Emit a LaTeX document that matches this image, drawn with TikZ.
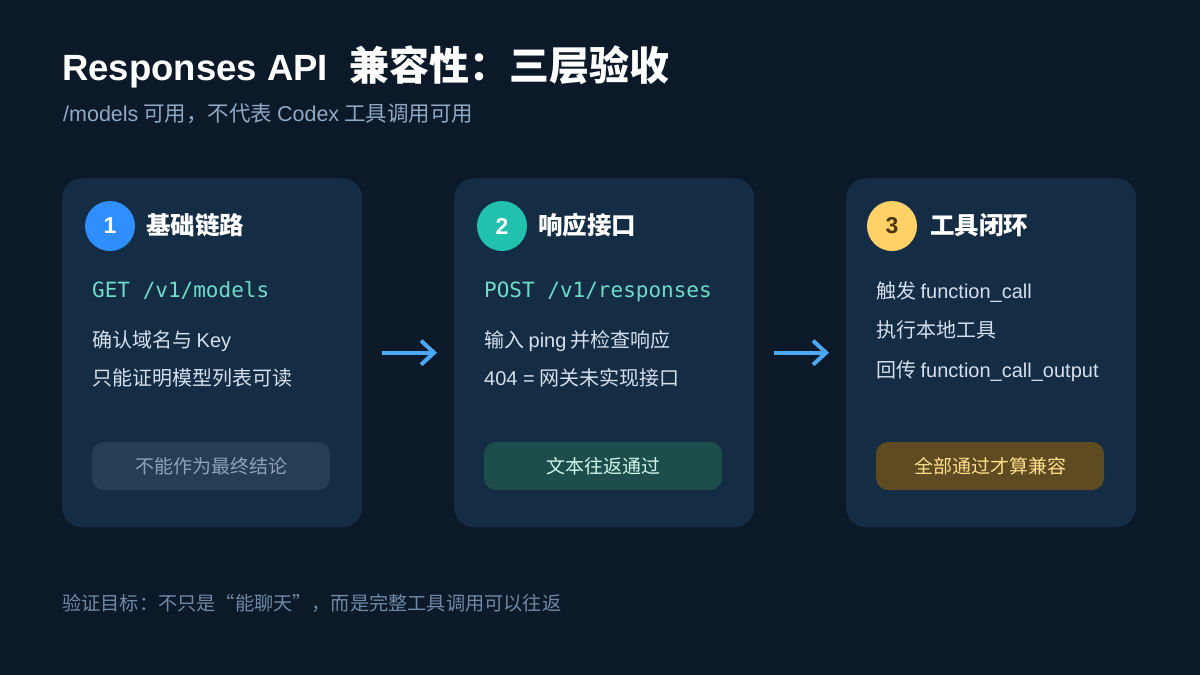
\documentclass[tikz,border=0pt]{standalone}
\usepackage{fontspec}
\setmainfont{Noto Sans CJK SC}
\newfontfamily\latinsans{Liberation Sans}
\newfontfamily\apimono{DejaVu Sans Mono}
\newcommand\latn[1]{{\latinsans #1}}
\usetikzlibrary{arrows.meta,positioning}

\definecolor{pagebg}{HTML}{0B1929}
\definecolor{cardbg}{HTML}{142C44}
\definecolor{subgrey}{HTML}{8FA9C4}
\definecolor{footgrey}{HTML}{6F89A5}
\definecolor{bodytext}{HTML}{D5E0EC}
\definecolor{apiteal}{HTML}{6EDCC8}
\definecolor{stepblue}{HTML}{2F8FFF}
\definecolor{stepteal}{HTML}{22C1AE}
\definecolor{stepgold}{HTML}{FFD166}
\definecolor{goldtext}{HTML}{4A3510}
\definecolor{flowblue}{HTML}{4AA8F5}
\definecolor{badgegrey}{HTML}{263D55}
\definecolor{badgegreytext}{HTML}{8DA2B8}
\definecolor{badgegreen}{HTML}{1D4E4B}
\definecolor{badgegreentext}{HTML}{CFF5EA}
\definecolor{badgegold}{HTML}{5E4B22}
\definecolor{badgegoldtext}{HTML}{FFDD8A}

\begin{document}
\begin{tikzpicture}[x=1pt,y=-1pt,
    card/.style={fill=cardbg,rounded corners=20pt,minimum width=300pt,
                 minimum height=349pt,anchor=north west,inner sep=0pt},
    stepnum/.style={circle,minimum size=50pt,inner sep=0pt,
                    font=\latinsans\fontsize{23}{23}\selectfont\bfseries},
    heading/.style={anchor=base west,inner sep=0pt,text=white,
                    font=\fontsize{24.5}{28}\selectfont\bfseries},
    apiline/.style={anchor=base west,inner sep=0pt,text=apiteal,
                    font=\apimono\fontsize{21}{24}\selectfont},
    bodyline/.style={anchor=base west,inner sep=0pt,text=bodytext,
                     font=\fontsize{20}{24}\selectfont},
    badge/.style={rounded corners=12pt,minimum height=48pt,inner sep=0pt,
                  font=\fontsize{19}{22}\selectfont},
    flow/.style={draw=flowblue,line width=4pt,shorten <=20pt,shorten >=17pt,
                 -{Straight Barb[length=13pt,width=24pt]}}]
  % page
  \fill[pagebg] (0,0) rectangle (1200,675);
  \useasboundingbox (0,0) rectangle (1200,675);

  \node[anchor=base west,inner sep=0pt,text=white,
        font=\fontsize{40}{44}\selectfont\bfseries] (title) at (62,80)
       {{\latinsans\fontsize{36.5}{44}\selectfont Responses API}\hspace{0.55em}兼容性：三层验收};
  \node[anchor=base west,inner sep=0pt,text=subgrey,
        font=\fontsize{21.5}{24}\selectfont] (subtitle) at (63,121)
       {\latn{/models} 可用，不代表 \latn{Codex} 工具调用可用};

  % cards
  \node[card]                    (c1) at (62,178)  {};
  \node[card]                    (c2) at (454,178) {};
  \node[card,minimum width=290pt] (c3) at (846,178) {};

  % layer 1
  \node[stepnum,fill=stepblue,text=white] (n1) at (110,226) {1};
  \node[heading]  (h1) at (146,234) {基础链路};
  \node[apiline]  (a1) at (92,297)  {GET /v1/models};
  \node[bodyline] (b1a) at (92,347) {确认域名与 \latn{Key}};
  \node[bodyline] (b1b) at (92,385) {只能证明模型列表可读};
  \node[badge,fill=badgegrey,text=badgegreytext,minimum width=238pt]
       (k1) at (211,466) {不能作为最终结论};

  % layer 2
  \node[stepnum,fill=stepteal,text=white] (n2) at (502,226) {2};
  \node[heading]  (h2) at (538,234) {响应接口};
  \node[apiline]  (a2) at (484,297) {POST /v1/responses};
  \node[bodyline] (b2a) at (484,347) {输入 \latn{ping} 并检查响应};
  \node[bodyline] (b2b) at (484,385) {\latn{404 =} 网关未实现接口};
  \node[badge,fill=badgegreen,text=badgegreentext,minimum width=238pt]
       (k2) at (603,466) {文本往返通过};

  % layer 3
  \node[stepnum,fill=stepgold,text=goldtext] (n3) at (892,226) {3};
  \node[heading]  (h3) at (930,234) {工具闭环};
  \node[bodyline] (b3a) at (876,298) {触发 \latn{function\_call}};
  \node[bodyline] (b3b) at (876,337) {执行本地工具};
  \node[bodyline] (b3c) at (876,377) {回传 \latn{function\_call\_output}};
  \node[badge,fill=badgegold,text=badgegoldtext,minimum width=228pt]
       (k3) at (990,466) {全部通过才算兼容};

  % flow between layers
  \draw[flow] (c1.east) -- (c2.west);
  \draw[flow] (c2.east) -- (c3.west);

  \node[anchor=base west,inner sep=0pt,text=footgrey,
        font=\fontsize{19.2}{22}\selectfont] (foot) at (62,610)
       {验证目标：不只是“能聊天”，而是完整工具调用可以往返};
\end{tikzpicture}
\end{document}
